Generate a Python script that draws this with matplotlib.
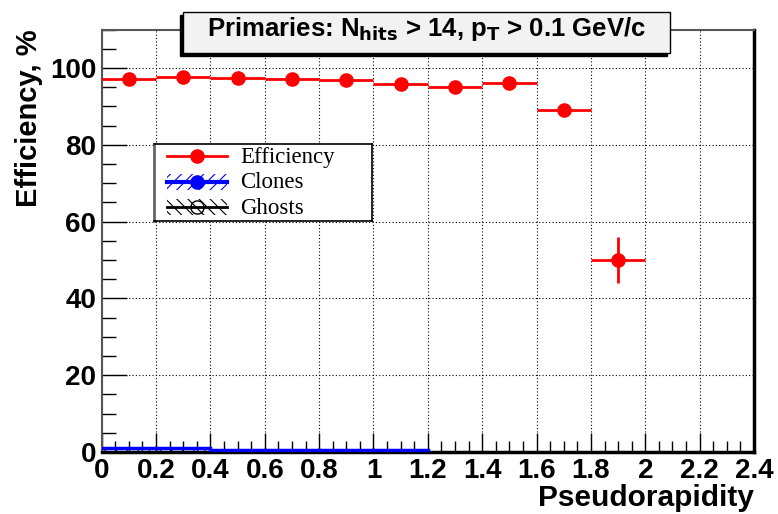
import matplotlib
matplotlib.use('Agg')
import matplotlib.pyplot as plt
from matplotlib.patches import Rectangle
from matplotlib.ticker import MultipleLocator
import numpy as np

# eta bins (width 0.2)
bin_lo = [0.0, 0.2, 0.4, 0.6, 0.8, 1.0, 1.2, 1.4, 1.6, 1.8]
bin_hi = [0.2, 0.4, 0.6, 0.8, 1.0, 1.2, 1.4, 1.6, 1.8, 2.0]
eff = [97.2, 97.6, 97.4, 97.2, 96.9, 95.8, 95.2, 96.1, 89.1, 50.0]
eff_err = [0.3, 0.3, 0.3, 0.3, 0.4, 0.5, 0.6, 0.8, 1.5, 6.1]
clones = [0.95, 0.95, 0.6, 0.6, 0.6, 0.6, 0.0, 0.0, 0.0, 0.0]
ghosts = [0.0, 0.0, 0.0, 0.0, 0.0, 0.0, 0.0, 0.0, 0.0, 0.0]
xtick_labels = ['0', '0.2', '0.4', '0.6', '0.8', '1', '1.2', '1.4', '1.6', '1.8', '2', '2.2', '2.4']
leg_labels = ['Efficiency', 'Clones', 'Ghosts']

plt.rcParams['font.family'] = ['Liberation Sans', 'DejaVu Sans']
plt.rcParams['hatch.linewidth'] = 0.8

W, H = 778, 514
fig = plt.figure(figsize=(W / 100, H / 100), dpi=100)
ax = fig.add_axes([101.7 / W, 62 / H, 652.3 / W, 422.3 / H])

lo = np.array(bin_lo)
hi = np.array(bin_hi)
ctr = (lo + hi) / 2
hw = (hi - lo) / 2

# clones: hatched band + line
edges = list(bin_lo) + [bin_hi[-1]]
cl = list(clones) + [clones[-1]]
ax.fill_between(edges, 0, cl, step='post', facecolor='none', edgecolor='blue',
                hatch='///', linewidth=0, zorder=2)
for i in range(len(bin_lo)):
    if clones[i] > 0:
        ax.plot([bin_lo[i], bin_hi[i]], [clones[i], clones[i]], color='blue', lw=2.5, zorder=3)

# efficiency
ax.errorbar(ctr, eff, xerr=hw, yerr=eff_err, fmt='o', color='red', ms=9.5,
            elinewidth=2, capsize=0, zorder=4)

ax.set_xlim(0, 2.4)
ax.set_ylim(0, 110)
ax.xaxis.set_minor_locator(MultipleLocator(0.05))
ax.yaxis.set_major_locator(MultipleLocator(20))
ax.yaxis.set_minor_locator(MultipleLocator(5))
ax.set_xticks(np.arange(0, 2.41, 0.2))
ax.set_xticklabels(xtick_labels)
ax.tick_params(which='major', direction='in', length=14, width=1, labelsize=20, pad=4)
ax.tick_params(which='minor', direction='in', length=8, width=1)
ax.tick_params(axis='y', which='major', length=18)
ax.tick_params(axis='y', which='minor', length=10)
for lab in ax.get_xticklabels() + ax.get_yticklabels():
    lab.set_fontweight('bold')
ax.grid(True, which='major', color='black', linestyle=(0, (1, 2)), linewidth=0.8)

for s in ['top', 'left']:
    ax.spines[s].set_color('#555555')
    ax.spines[s].set_linewidth(1.5)
for s in ['bottom', 'right']:
    ax.spines[s].set_color('black')
    ax.spines[s].set_linewidth(2.5)

ax.set_xlabel('Pseudorapidity', fontsize=21.5, fontweight='bold', loc='right', labelpad=0)
ax.set_ylabel('Efficiency, %', fontsize=21, fontweight='bold', loc='top', labelpad=5)

# legend box (pixel coords inside an overlay axes)
lx0, ly0, lw_, lh_ = 154, 144, 218, 77
lax = fig.add_axes([lx0 / W, 1 - (ly0 + lh_) / H, lw_ / W, lh_ / H])
lax.set_xlim(0, lw_)
lax.set_ylim(lh_, 0)
lax.set_facecolor('white')
for s in lax.spines.values():
    s.set_color('black')
    s.set_linewidth(1.2)
lax.spines['left'].set_color('#666666')
lax.spines['left'].set_linewidth(2)
lax.set_xticks([])
lax.set_yticks([])
rows = [12, 38, 63]
hx0, hx1 = 13, 73
# efficiency
lax.plot([hx0, hx1], [rows[0], rows[0]], color='red', lw=2)
lax.plot([(hx0 + hx1) / 2], [rows[0]], 'o', color='red', ms=9.5)
# clones
lax.add_patch(Rectangle((hx0, rows[1] - 8), hx1 - hx0, 16, facecolor='none',
                        edgecolor='blue', hatch='///', lw=0))
lax.plot([hx0, hx1], [rows[1], rows[1]], color='blue', lw=3)
lax.plot([(hx0 + hx1) / 2], [rows[1]], 'o', color='blue', ms=9.5)
# ghosts
lax.add_patch(Rectangle((hx0, rows[2] - 8), hx1 - hx0, 16, facecolor='none',
                        edgecolor='black', hatch='\\\\\\', lw=0))
lax.plot([hx0, hx1], [rows[2], rows[2]], color='black', lw=2)
lax.plot([(hx0 + hx1) / 2], [rows[2]], 'o', color='black', mfc='none', ms=9.5, mew=1)
for r, t in zip(rows, leg_labels):
    lax.text(86, r + 1, t, family='Liberation Serif', fontsize=16.5, va='center', ha='left')

# title box with shadow
tx0, tx1, ty0, ty1 = 183 / W, 670 / W, 1 - 53 / H, 1 - 12 / H
fig.patches.append(Rectangle((tx0 - 3 / W, ty0 - 3 / H), tx1 - tx0, ty1 - ty0,
                             transform=fig.transFigure, facecolor='black', edgecolor='black', zorder=5))
fig.patches.append(Rectangle((tx0, ty0), tx1 - tx0, ty1 - ty0, transform=fig.transFigure,
                             facecolor='#f2f2f2', edgecolor='black', lw=1, zorder=6))
fig.text((tx0 + tx1) / 2, (ty0 + ty1) / 2 + 0.006,
         r'Primaries: N$_{\mathbf{hits}}$ > 14, p$_{\mathbf{T}}$ > 0.1 GeV/c',
         ha='center', va='center', fontsize=18.5, fontweight='bold', zorder=7)

fig.savefig('out.png', dpi=100)
